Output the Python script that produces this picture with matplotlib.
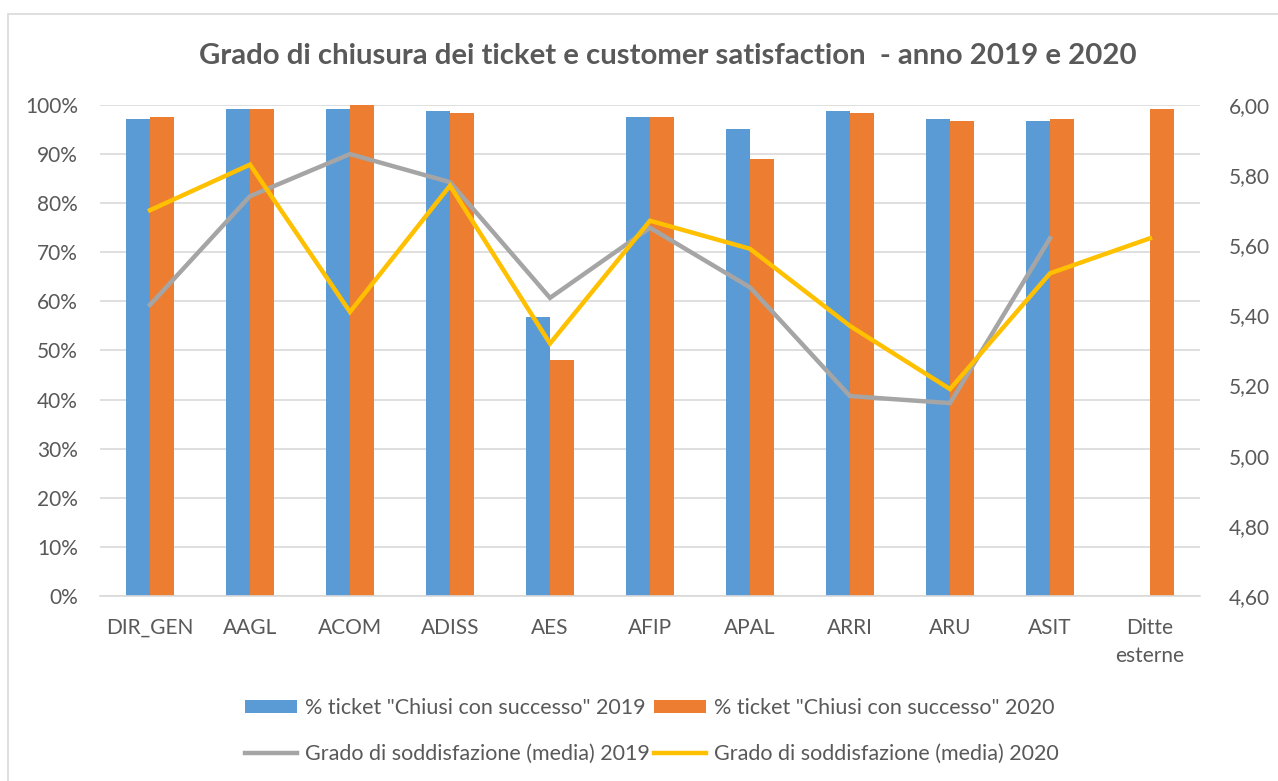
import numpy as np
import matplotlib
matplotlib.use("Agg")
import matplotlib.pyplot as plt
from matplotlib.patches import Patch, Rectangle
from matplotlib.lines import Line2D
from matplotlib.ticker import FuncFormatter, MultipleLocator

categories = ["DIR_GEN", "AAGL", "ACOM", "ADISS", "AES", "AFIP", "APAL",
              "ARRI", "ARU", "ASIT", "Ditte\nesterne"]
closed_2019 = [97.1, 99.2, 99.2, 98.8, 56.9, 97.6, 95.2, 98.8, 97.1, 96.8, None]
closed_2020 = [97.6, 99.2, 100.0, 98.4, 48.1, 97.6, 89.1, 98.4, 96.8, 97.1, 99.2]
satisf_2019 = [5.43, 5.74, 5.86, 5.78, 5.45, 5.65, 5.48, 5.17, 5.15, 5.62, None]
satisf_2020 = [5.70, 5.83, 5.41, 5.77, 5.32, 5.67, 5.59, 5.37, 5.19, 5.52, 5.62]

title = "Grado di chiusura dei ticket e customer satisfaction  - anno 2019 e 2020"
labels = ['% ticket "Chiusi con successo" 2019', '% ticket "Chiusi con successo" 2020',
          'Grado di soddisfazione (media) 2019', 'Grado di soddisfazione (media) 2020']

BLUE, ORANGE, GRAY, YELLOW = "#5B9BD5", "#ED7D31", "#A5A5A5", "#FFC000"
TXT = "#595959"
GRID = "#D9D9D9"

plt.rcParams['font.family'] = ['Lato', 'DejaVu Sans']

def arr(v):
    return np.array([np.nan if x is None else x for x in v], dtype=float)

c19, c20 = arr(closed_2019) / 100.0, arr(closed_2020) / 100.0
s19, s20 = arr(satisf_2019), arr(satisf_2020)

W, H = 1278, 781
fig = plt.figure(figsize=(W / 100, H / 100), dpi=100)
ax = fig.add_axes([100 / W, 1 - 596 / H, 1100 / W, 491 / H])

x = np.arange(len(categories))
bw = 0.24
ax.bar(x - bw / 2, np.nan_to_num(c19), bw, color=BLUE, zorder=2)
ax.bar(x + bw / 2, np.nan_to_num(c20), bw, color=ORANGE, zorder=2)

ax.set_xlim(-0.5, len(categories) - 0.5)
ax.set_ylim(0, 1.0)
ax.yaxis.set_major_locator(MultipleLocator(0.1))
ax.yaxis.set_major_formatter(FuncFormatter(lambda v, p: f"{round(v*100):d}%"))
ax.grid(axis='y', color=GRID, linewidth=1.2, zorder=0)
ax.set_axisbelow(True)
for s in ['top', 'right', 'left']:
    ax.spines[s].set_visible(False)
ax.spines['bottom'].set_color(GRID)
ax.spines['bottom'].set_linewidth(1.2)
ax.set_xticks(x)
ax.set_xticklabels(categories, linespacing=1.55)
ax.tick_params(axis='x', length=0, pad=15.5, labelsize=15, labelcolor=TXT)
ax.tick_params(axis='y', length=0, pad=16, labelsize=15, labelcolor=TXT)

ax2 = ax.twinx()
ax2.set_ylim(4.6, 6.0)
ax2.yaxis.set_major_locator(MultipleLocator(0.2))
ax2.yaxis.set_major_formatter(FuncFormatter(lambda v, p: f"{v:.2f}".replace('.', ',')))
for s in ax2.spines.values():
    s.set_visible(False)
ax2.tick_params(axis='y', length=0, pad=21, labelsize=15, labelcolor=TXT)
ax2.plot(x, s19, color=GRAY, linewidth=3.2, solid_joinstyle='miter', zorder=3)
ax2.plot(x, s20, color=YELLOW, linewidth=3.2, solid_joinstyle='miter', zorder=4)

fig.text(668 / W, 1 - 56 / H, title, ha='center', va='center', fontsize=21.2,
         fontweight='bold', color=TXT)

h_blue = Patch(facecolor=BLUE)
h_orange = Patch(facecolor=ORANGE)
h_gray = Line2D([], [], color=GRAY, linewidth=3.2)
h_yellow = Line2D([], [], color=YELLOW, linewidth=3.2)
leg = fig.legend([h_blue, h_gray, h_orange, h_yellow],
                 [labels[0], labels[2], labels[1], labels[3]],
                 ncol=2, loc='center',
                 bbox_to_anchor=(652 / W, 1 - 731 / H), frameon=False,
                 fontsize=15.5, labelcolor=TXT, handlelength=2.4, handleheight=0.6,
                 handletextpad=0.37, columnspacing=0.2, labelspacing=1.2)

fig.patches.append(Rectangle((8 / W, -0.1), 1.2, (1 - 14 / H) + 0.1,
                             transform=fig.transFigure, fill=False,
                             edgecolor=GRID, linewidth=1.2))

fig.savefig("out.png", dpi=100)
